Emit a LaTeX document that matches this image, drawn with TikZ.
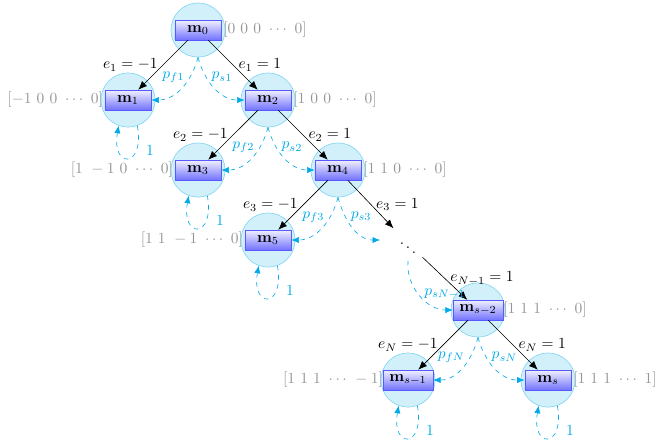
\documentclass[tikz,border=0pt]{standalone}
\usepackage{amsmath}
\usepackage{amssymb}
\usepackage{xcolor}
\usepackage{tikz}
\usetikzlibrary{arrows.meta}

\definecolor{pcyan}{RGB}{0,170,230}
\definecolor{vgray}{RGB}{150,150,150}

\begin{document}
\begin{tikzpicture}[x=1.59cm,y=1.59cm]
			\useasboundingbox (-2.829,0.429) rectangle (6.571,-5.943);

			% states (circles) with their vectors
			\begin{scope}[every node/.style={circle,draw=pcyan!50,fill=pcyan!18,minimum size=1.23cm,inner sep=0pt},
			              every label/.style={vgray,label distance=-2pt,draw=none,fill=none}]
			    \node[label={0:$[0\ 0\ 0\ \cdots\ 0]$}]  (c0) at (0,0) {};
			    \node[label={180:$[{-1}\ 0\ 0\ \cdots\ 0]$}]  (c1) at (-1,-1) {};
			    \node[label={0:$[1\ 0\ 0\ \cdots\ 0]$}]  (c2) at (1,-1) {};
			    \node[label={180:$[1\ -1\ 0\ \cdots\ 0]$}]  (c3) at (0,-2) {};
			    \node[label={0:$[1\ 1\ 0\ \cdots\ 0]$}]  (c4) at (2,-2) {};
			    \node[label={180:$[1\ 1\ -1\ \cdots\ 0]$}]  (c5) at (1,-3) {};
			    \node[label={0:$[1\ 1\ 1\ \cdots\ 0]$}]  (cs2) at (4,-4) {};
			    \node[label={180:$[1\ 1\ 1\ \cdots\ -1]$}]  (cs1) at (3,-5) {};
			    \node[label={0:$[1\ 1\ 1\ \cdots\ 1]$}]  (cs) at (5,-5) {};
			\end{scope}

			% boxes
			\begin{scope}[every node/.style={rectangle,draw=blue!65,top color=blue!6,bottom color=blue!55,
			              minimum width=1.05cm,minimum height=0.45cm,inner xsep=4pt,inner ysep=2pt}]
			    \node (m0) at (0,0) {$\mathbf{m}_0$};
			    \node (m1) at (-1,-1) {$\mathbf{m}_1$};
			    \node (m2) at (1,-1) {$\mathbf{m}_2$};
			    \node (m3) at (0,-2) {$\mathbf{m}_3$};
			    \node (m4) at (2,-2) {$\mathbf{m}_4$};
			    \node (m5) at (1,-3) {$\mathbf{m}_5$};
			    \node (ms2) at (4,-4) {$\mathbf{m}_{s-2}$};
			    \node (ms1) at (3,-5) {$\mathbf{m}_{s-1}$};
			    \node (ms) at (5,-5) {$\mathbf{m}_s$};
			\end{scope}

			\node (dots) at (3,-3.05) {$\ddots$};
			\coordinate (p3end) at (2.6,-3.0);
			\coordinate (pNstart) at (3.0,-3.3);

			% moves
			\begin{scope}[>={Latex[length=2mm,width=1.6mm]},
			              every edge/.style={draw=black,thin}]
			    \path [->] (m0) edge node[left] {$e_1=-1$} (m1);
			    \path [->] (m0) edge node[right] {$e_1=1$} (m2);
			    \path [->] (m2) edge node[left] {$e_2=-1$} (m3);
			    \path [->] (m2) edge node[right] {$e_2=1$} (m4);
			    \path [->] (m4) edge node[left] {$e_3=-1$} (m5);
			    \path [->] (m4) edge node[right] {$e_3=1$} (dots);
			    \path [->] (dots) edge node[right,pos=0.5] {$e_{N-1}=1$} (ms2);
			    \path [->] (ms2) edge node[left] {$e_N=-1$} (ms1);
			    \path [->] (ms2) edge node[right] {$e_N=1$} (ms);
			\end{scope}

			% probabilities
			\begin{scope}[pcyan,dashed,>={Latex[length=1.7mm,width=1.4mm]}]
			    \draw [->] (c0.south) to[out=-105,in=0] node[left,pos=0.3] {$p_{f1}$} (m1.east);
			    \draw [->] (c0.south) to[out=-75,in=180] node[right,pos=0.3] {$p_{s1}$} (m2.west);
			    \draw [->] (c2.south) to[out=-105,in=0] node[left,pos=0.3] {$p_{f2}$} (m3.east);
			    \draw [->] (c2.south) to[out=-75,in=180] node[right,pos=0.3] {$p_{s2}$} (m4.west);
			    \draw [->] (c4.south) to[out=-105,in=0] node[left,pos=0.3] {$p_{f3}$} (m5.east);
			    \draw [->] (c4.south) to[out=-75,in=180] node[right,pos=0.3] {$p_{s3}$} (p3end);
			    \draw [->] (pNstart) to[out=-95,in=180] node[right,pos=0.48] {$p_{sN-1}$} (ms2.west);
			    \draw [->] (cs2.south) to[out=-105,in=0] node[left,pos=0.3] {$p_{fN}$} (ms1.east);
			    \draw [->] (cs2.south) to[out=-75,in=180] node[right,pos=0.3] {$p_{sN}$} (ms.west);
			    \foreach \c in {c1,c3,c5,cs1,cs}
			        \draw [->] (\c.-70) to[out=-80,in=-100,looseness=6] node[right,inner sep=1pt,xshift=5pt,pos=0.25] {$1$} (\c.-110);
			\end{scope}
\end{tikzpicture}
\end{document}
